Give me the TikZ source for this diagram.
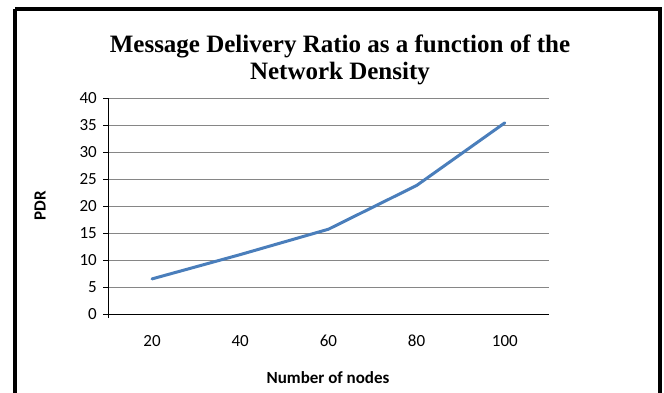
\documentclass[tikz,border=0pt]{standalone}
\usepackage{fontspec}
\setmainfont{Carlito}
\newfontfamily\titlefont{Liberation Serif}
\definecolor{serieblue}{RGB}{74,126,187}
\definecolor{gridgray}{RGB}{134,134,134}
\tikzset{
  ticklab/.style={font=\fontsize{17}{19}\selectfont, inner sep=0pt},
  axislab/.style={font=\fontsize{17}{19}\selectfont\bfseries, inner sep=0pt},
  titletext/.style={font=\titlefont\bfseries\fontsize{25}{27}\selectfont, inner sep=0pt, align=center},
  gridline/.style={gridgray, line width=0.9pt},
  axisline/.style={black, line width=1pt},
  series/.style={serieblue, line width=3pt, line join=round, line cap=round}
}
\begin{document}
\begin{tikzpicture}[x=1pt,y=-1pt]
\useasboundingbox (0,0) rectangle (664,392);
% outer frame (bottom edge lies outside the picture)
\draw[line width=3.5pt] (15,9) -- (660,9) -- (660,400) (15,9) -- (15,400);
% title
\node[titletext] (title) at (340,60) {Message Delivery Ratio as a function of the\\Network Density};
% gridlines and y ticks
\foreach \v in {5,10,...,40}{
  \draw[gridline] (108,{314-\v*5.4}) -- (549,{314-\v*5.4});
}
\foreach \v in {0,5,...,40}{
  \draw[axisline] (103,{314-\v*5.4}) -- (108,{314-\v*5.4});
  \node[ticklab, anchor=east] (y\v) at (97,{314-\v*5.4}) {\v};
}
% axes
\draw[axisline] (108,98) -- (108,318);
\draw[axisline] (108,314) -- (549,314);
% x labels
\foreach \c [count=\i from 0] in {20,40,60,80,100}{
  \node[ticklab] (x\c) at ({152+88.2*\i},341) {\c};
}
\node[axislab] (xlabel) at (328,378) {Number of nodes};
\node[axislab, rotate=90] (ylabel) at (40,206) {PDR};
% data
\coordinate (p1) at (152,{314-6.5*5.4});
\coordinate (p2) at (240.2,{314-11*5.4});
\coordinate (p3) at (328.4,{314-15.7*5.4});
\coordinate (p4) at (416.6,{314-23.8*5.4});
\coordinate (p5) at (504.8,{314-35.4*5.4});
\draw[series] (p1) -- (p2) -- (p3) -- (p4) -- (p5);
\end{tikzpicture}
\end{document}
